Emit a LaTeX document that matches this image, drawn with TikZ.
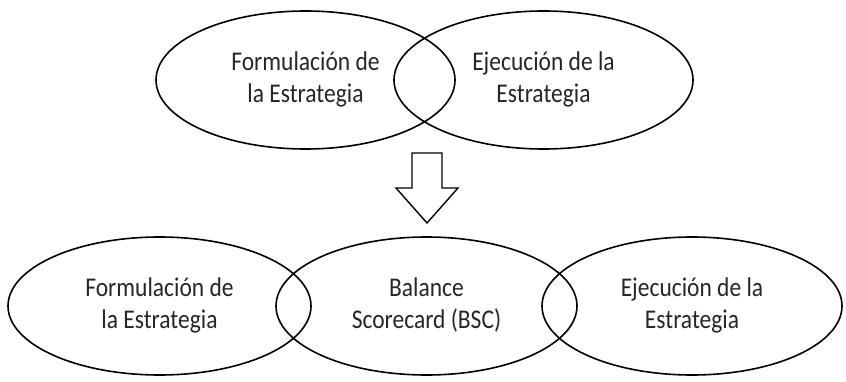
\documentclass[tikz,border=0pt]{standalone}
\usepackage{fontspec}
\setmainfont{Carlito}
\usetikzlibrary{shapes.geometric}

% two centred lines, a little taller than the font
\newcommand{\twolines}[2]{\scalebox{1}[1.15]{\begin{tabular}{@{}c@{}}#1\\#2\end{tabular}}}

\begin{document}
\begin{tikzpicture}[x=1pt,y=-1pt,line width=1.6pt,
    set node/.style={ellipse,draw,inner sep=0pt,minimum height=138pt,
        font=\fontsize{23.5}{28}\selectfont,text=black!85}]
            \useasboundingbox (0,0) rectangle (846,382);

            % before
            \node[set node,minimum width=299pt] (form1) at (305.5,80) {\twolines{Formulación de}{la Estrategia}};
            \node[set node,minimum width=299pt] (ejec1) at (543.5,80) {\twolines{Ejecución de la}{Estrategia}};

            % hollow arrow
            \draw[line width=1.4pt,line join=miter] (412,153) -- (442,153) -- (442,188) -- (458,188)
                -- (427,223) -- (396,188) -- (412,188) -- cycle;

            % after
            \node[set node,minimum width=303pt] (form2) at (159.5,306) {\twolines{Formulación de}{la Estrategia}};
            \node[set node,minimum width=301pt] (bsc) at (426.5,306) {\twolines{Balance}{Scorecard (BSC)}};
            \node[set node,minimum width=300pt] (ejec2) at (692,306) {\twolines{Ejecución de la}{Estrategia}};
        \end{tikzpicture}
\end{document}
